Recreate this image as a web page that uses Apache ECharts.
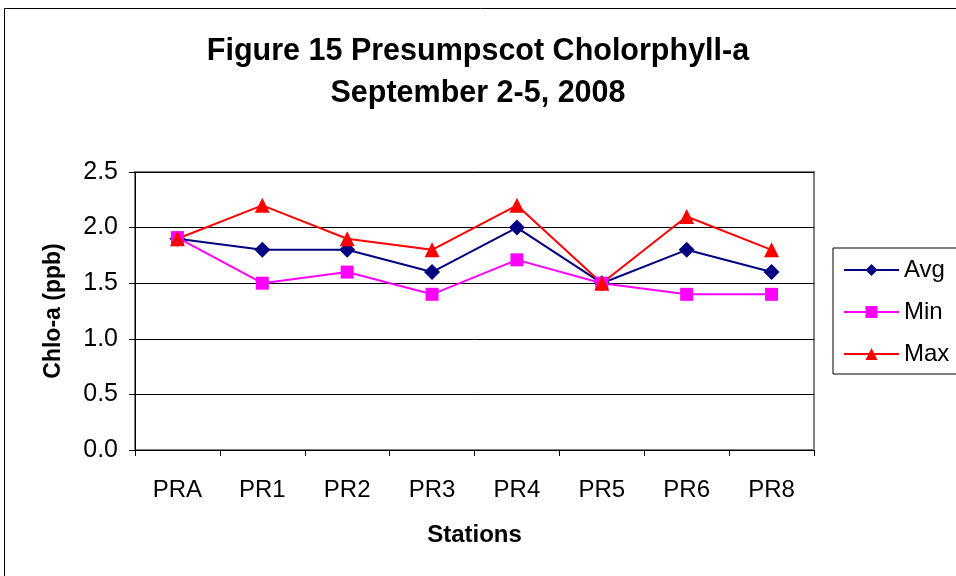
<!DOCTYPE html>
<html>
<head>
<meta charset="utf-8">
<script src="https://cdn.jsdelivr.net/npm/echarts@6/dist/echarts.min.js"></script>
<style>
html, body { margin: 0; padding: 0; background: #fff; }
#main { width: 956px; height: 576px; }
</style>
</head>
<body>
<div id="main"></div>
<script>
"use strict";
var stations = ['PRA', 'PR1', 'PR2', 'PR3', 'PR4', 'PR5', 'PR6', 'PR8'];
var avgVals = [1.9, 1.8, 1.8, 1.6, 2.0, 1.5, 1.8, 1.6];
var minVals = [1.91, 1.5, 1.6, 1.4, 1.71, 1.5, 1.4, 1.4];
var maxVals = [1.9, 2.2, 1.9, 1.8, 2.2, 1.5, 2.1, 1.8];

var font = 'Liberation Sans, Arial, sans-serif';

function mkSeries(name, data, color, symbol, size) {
    return {
        name: name,
        type: 'line',
        data: data,
        symbol: symbol,
        symbolSize: size,
        lineStyle: { color: color, width: 2 },
        itemStyle: { color: color },
        animation: false
    };
}

var dom = document.getElementById('main');
var myChart = echarts.init(dom);
var option = {
    backgroundColor: '#fff',
    title: {
        text: 'Figure 15 Presumpscot Cholorphyll-a\nSeptember 2-5, 2008',
        left: 'center',
        top: 26,
        textStyle: { fontFamily: font, fontSize: 30.5, fontWeight: 'bold', color: '#000', lineHeight: 42 }
    },
    graphic: [{
        type: 'rect',
        shape: { x: 4.5, y: 8.5, width: 1000, height: 1000 },
        style: { fill: 'none', stroke: '#000', lineWidth: 1 },
        silent: true
    }, {
        type: 'rect',
        shape: { x: 135, y: 172, width: 679, height: 278 },
        style: { fill: 'none', stroke: '#808080', lineWidth: 2 },
        silent: true,
        z: 0
    }],
    legend: {
        orient: 'vertical',
        left: 833,
        top: 248,
        borderColor: '#000',
        borderWidth: 1,
        padding: [10, 12, 8, 10],
        itemGap: 18,
        itemWidth: 55,
        itemHeight: 15,
        textStyle: { fontFamily: font, fontSize: 24, color: '#000' },
        data: ['Avg', 'Min', 'Max']
    },
    grid: { left: 135, right: 142, top: 172, bottom: 126 },
    xAxis: {
        type: 'category',
        data: stations,
        boundaryGap: true,
        name: 'Stations',
        nameLocation: 'middle',
        nameGap: 73,
        nameTextStyle: { fontFamily: font, fontSize: 24, fontWeight: 'bold', color: '#000' },
        axisLine: { lineStyle: { color: '#000', width: 1 } },
        axisTick: { show: true, length: 6, lineStyle: { color: '#000' } },
        axisLabel: { fontFamily: font, fontSize: 24, color: '#000', margin: 28 }
    },
    yAxis: {
        type: 'value',
        min: 0,
        max: 2.5,
        interval: 0.5,
        name: 'Chlo-a (ppb)',
        nameLocation: 'middle',
        nameGap: 70,
        nameTextStyle: { fontFamily: font, fontSize: 23, fontWeight: 'bold', color: '#000' },
        axisLine: { show: true, lineStyle: { color: '#000', width: 1 } },
        axisTick: { show: true, length: 6, lineStyle: { color: '#000' } },
        axisLabel: {
            fontFamily: font, fontSize: 25, color: '#000', margin: 17,
            formatter: function (v) { return v.toFixed(1); }
        },
        splitLine: { show: true, lineStyle: { color: '#000', width: 1 } }
    },
    series: [
        mkSeries('Avg', avgVals, '#000080', 'diamond', 16),
        mkSeries('Min', minVals, '#FF00FF', 'rect', 13),
        mkSeries('Max', maxVals, '#FF0000', 'triangle', 15)
    ]
};
myChart.setOption(option, true);
</script>
</body>
</html>
